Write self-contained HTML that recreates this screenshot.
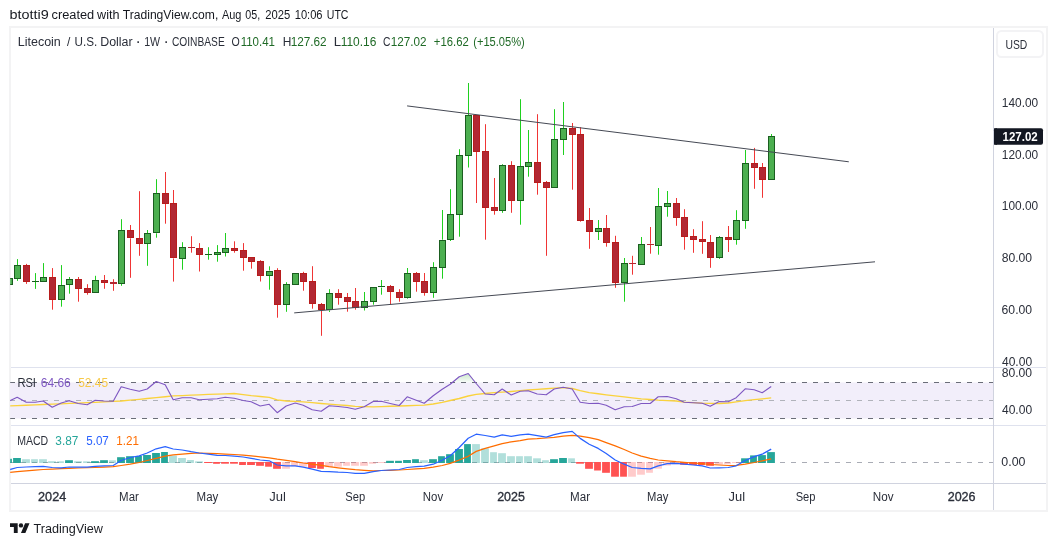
<!DOCTYPE html>
<html lang="en">
<head>
<meta charset="utf-8">
<title>LTCUSD 1W chart snapshot</title>
<style>
html,body{margin:0;padding:0;background:#fff}
body{width:1057px;height:546px;overflow:hidden;position:relative;font-family:"Liberation Sans",sans-serif}
#snap{position:absolute;left:0;top:0;width:1057px;height:546px;display:block}
text{font-family:"Liberation Sans",sans-serif;font-size:12px;fill:#2a2e39}
.b{font-weight:bold}
.ax{fill:#131722}
.sep{stroke:#dfe2ee;stroke-width:1;fill:none}
.gw{stroke:#1fd01f;stroke-width:1}
.rw{stroke:#f03535;stroke-width:1}
.gb{fill:#4caf50;stroke:#1b5e20;stroke-width:1}
.rb{fill:#b22833;stroke:#b71c1c;stroke-width:1}
.gd{stroke:#1b5e20;stroke-width:1}
.rd{stroke:#b22833;stroke-width:1}
.tl{stroke:#454954;stroke-width:1;fill:none}
.hd{fill:#26a69a}.hl{fill:#26a69a;fill-opacity:.36}.hr{fill:#ff5252}.hp{fill:#ff5252;fill-opacity:.3}
</style>
</head>
<body>
<svg id="snap" width="1057" height="546" viewBox="0 0 1057 546">
<rect x="0" y="0" width="1057" height="546" fill="#ffffff"/>
<g id="header"><text style="font-size:12.5px"><tspan x="9.59" y="19" textLength="39.24" lengthAdjust="spacingAndGlyphs" style="fill:#15181f">btotti9</tspan> <tspan x="51.49" y="19" textLength="42.75" lengthAdjust="spacingAndGlyphs" style="fill:#15181f">created</tspan> <tspan x="97.1" y="19" textLength="22.46" lengthAdjust="spacingAndGlyphs" style="fill:#15181f">with</tspan> <tspan x="122.76" y="19" textLength="95.56" lengthAdjust="spacingAndGlyphs" style="fill:#15181f">TradingView.com,</tspan> <tspan x="222.0" y="19" textLength="19.46" lengthAdjust="spacingAndGlyphs" style="fill:#15181f">Aug</tspan> <tspan x="245.37" y="19" textLength="14.89" lengthAdjust="spacingAndGlyphs" style="fill:#15181f">05,</tspan> <tspan x="265.34" y="19" textLength="24.96" lengthAdjust="spacingAndGlyphs" style="fill:#15181f">2025</tspan> <tspan x="294.71" y="19" textLength="27.86" lengthAdjust="spacingAndGlyphs" style="fill:#15181f">10:06</tspan> <tspan x="326.75" y="19" textLength="21.72" lengthAdjust="spacingAndGlyphs" style="fill:#15181f">UTC</tspan></text></g>
<defs><linearGradient id="ob" x1="0" y1="0" x2="0" y2="1"><stop offset="0" stop-color="#4caf50" stop-opacity="0.3"/><stop offset="1" stop-color="#4caf50" stop-opacity="0.03"/></linearGradient><clipPath id="plot"><rect x="10.2" y="28" width="982.8" height="455.5"/></clipPath></defs>
<g id="chart">
<rect x="10" y="27" width="1037" height="484" fill="none" stroke="#f3f3f4" stroke-width="2"/><g id="rsi-band" clip-path="url(#plot)"><rect x="10" y="382.5" width="983" height="36" fill="#f2eefa"/><path d="M10 382.5H993M10 418.5H993" stroke="#6a6d78" stroke-width="1" stroke-dasharray="5 6" fill="none"/><path d="M10 400.5H993" stroke="#b0b2ba" stroke-width="1" stroke-dasharray="5 6" fill="none"/></g>
<path d="M10 462.5H993" stroke="#a9acb5" stroke-width="1" stroke-dasharray="5 6" fill="none" clip-path="url(#plot)"/>
<g id="candles" clip-path="url(#plot)">
<rect class="gb" x="6.5" y="278.5" width="6" height="6"/>
<path class="gw" d="M17.5 259.1V265.2"/><path class="gw" d="M17.5 278.7V280.9"/><rect class="gb" x="14.5" y="265.5" width="6" height="13"/>
<path class="rw" d="M26.5 263.9V265.1"/><path class="rw" d="M26.5 281.8V283.9"/><rect class="rb" x="23.5" y="265.5" width="6" height="16"/>
<path class="gw" d="M35.5 273.1V281"/><path class="gw" d="M35.5 282V288.9"/><rect fill="#1b5e20" x="32" y="281" width="7" height="1"/>
<path class="gw" d="M43.5 263.1V277.2"/><rect class="gb" x="40.5" y="277.5" width="6" height="4"/>
<path class="rw" d="M52.5 268.1V277"/><path class="rw" d="M52.5 299.7V309.7"/><rect class="rb" x="49.5" y="277.5" width="6" height="22"/>
<path class="gw" d="M61.5 265.1V285.1"/><path class="gw" d="M61.5 299.7V306.7"/><rect class="gb" x="58.5" y="285.5" width="6" height="14"/>
<path class="gw" d="M69.5 277V279.2"/><path class="gw" d="M69.5 284.7V293.7"/><rect class="gb" x="66.5" y="279.5" width="6" height="5"/>
<path class="rw" d="M78.5 277V279.2"/><path class="rw" d="M78.5 288.8V301.7"/><rect class="rb" x="75.5" y="279.5" width="6" height="9"/>
<path class="rw" d="M87.5 284.2V288"/><path class="rw" d="M87.5 292.8V294.7"/><rect class="rb" x="84.5" y="288.5" width="6" height="4"/>
<path class="gw" d="M95.5 275.8V280.2"/><rect class="gb" x="92.5" y="280.5" width="6" height="12"/>
<path class="rw" d="M104.5 275V280"/><path class="rw" d="M104.5 282.7V288.8"/><rect class="rb" x="101.5" y="280.5" width="6" height="2"/>
<path class="rw" d="M113.5 279.2V282.2"/><path class="rw" d="M113.5 283.7V290.8"/><rect fill="#b22833" x="110" y="282" width="7" height="2"/>
<path class="gw" d="M121.5 219.2V230.3"/><path class="gw" d="M121.5 283.7V285.8"/><rect class="gb" x="118.5" y="230.5" width="6" height="53"/>
<path class="rw" d="M130.5 225V230.3"/><path class="rw" d="M130.5 238.3V277.8"/><rect class="rb" x="127.5" y="230.5" width="6" height="7"/>
<path class="rw" d="M139.5 191.2V238.3"/><path class="rw" d="M139.5 243.5V255.8"/><rect class="rb" x="136.5" y="238.5" width="6" height="5"/>
<path class="gw" d="M147.5 230V233.3"/><path class="gw" d="M147.5 243.5V265.8"/><rect class="gb" x="144.5" y="233.5" width="6" height="10"/>
<path class="gw" d="M156.5 179.2V193.3"/><path class="gw" d="M156.5 233.3V237.7"/><rect class="gb" x="153.5" y="193.5" width="6" height="39"/>
<path class="rw" d="M165.5 172V193.3"/><path class="rw" d="M165.5 203.7V223.7"/><rect class="rb" x="162.5" y="193.5" width="6" height="10"/>
<path class="rw" d="M173.5 190V203"/><path class="rw" d="M173.5 258.4V281.6"/><rect class="rb" x="170.5" y="203.5" width="6" height="54"/>
<path class="gw" d="M182.5 242.2V247.3"/><path class="gw" d="M182.5 258.5V269.7"/><rect class="gb" x="179.5" y="247.5" width="6" height="11"/>
<path class="rw" d="M191.5 236.2V247"/><path class="rw" d="M191.5 248V252.7"/><rect fill="#b22833" x="188" y="247" width="7" height="1"/>
<path class="rw" d="M199.5 243.1V248.1"/><path class="rw" d="M199.5 254.7V271.5"/><rect class="rb" x="196.5" y="248.5" width="6" height="6"/>
<path class="gw" d="M208.5 247.2V254"/><path class="gw" d="M208.5 255V259.7"/><rect fill="#1b5e20" x="205" y="254" width="7" height="1"/>
<path class="gw" d="M217.5 245.1V252.2"/><path class="gw" d="M217.5 254.5V261.7"/><rect class="gb" x="214.5" y="252.5" width="6" height="2"/>
<path class="gw" d="M225.5 233V248.2"/><path class="gw" d="M225.5 252.7V256.5"/><rect class="gb" x="222.5" y="248.5" width="6" height="4"/>
<path class="rw" d="M234.5 241.3V248.2"/><path class="rw" d="M234.5 250.7V252.7"/><rect class="rb" x="231.5" y="248.5" width="6" height="2"/>
<path class="rw" d="M243.5 243.1V250.1"/><path class="rw" d="M243.5 257.7V270.7"/><rect class="rb" x="240.5" y="250.5" width="6" height="7"/>
<path class="rw" d="M251.5 261.7V268.7"/><rect class="rb" x="248.5" y="257.5" width="6" height="4"/>
<path class="rw" d="M260.5 260.2V261.2"/><path class="rw" d="M260.5 275.7V281.5"/><rect class="rb" x="257.5" y="261.5" width="6" height="14"/>
<path class="gw" d="M269.5 266.3V270.5"/><path class="gw" d="M269.5 275.5V289.7"/><rect class="gb" x="266.5" y="271.5" width="6" height="4"/>
<path class="rw" d="M277.5 268.2V270.2"/><path class="rw" d="M277.5 304.6V317.7"/><rect class="rb" x="274.5" y="270.5" width="6" height="34"/>
<path class="gw" d="M286.5 282.2V284.3"/><path class="gw" d="M286.5 304.6V311.8"/><rect class="gb" x="283.5" y="284.5" width="6" height="20"/>
<rect class="gb" x="292.5" y="273.5" width="6" height="11"/>
<path class="rw" d="M303.5 271.8V273.2"/><path class="rw" d="M303.5 281.5V290.7"/><rect class="rb" x="300.5" y="273.5" width="6" height="8"/>
<path class="rw" d="M312.5 266.2V281"/><path class="rw" d="M312.5 303.7V308.7"/><rect class="rb" x="309.5" y="281.5" width="6" height="22"/>
<path class="rw" d="M321.5 303V304.2"/><path class="rw" d="M321.5 310.4V335.8"/><rect class="rb" x="318.5" y="304.5" width="6" height="5"/>
<path class="gw" d="M329.5 289.2V293.3"/><path class="gw" d="M329.5 310.4V312"/><rect class="gb" x="326.5" y="293.5" width="6" height="16"/>
<path class="rw" d="M338.5 289.2V293.3"/><path class="rw" d="M338.5 297.6V304.7"/><rect class="rb" x="335.5" y="293.5" width="6" height="4"/>
<path class="rw" d="M347.5 293V297.2"/><path class="rw" d="M347.5 301.7V311.7"/><rect class="rb" x="344.5" y="297.5" width="6" height="4"/>
<path class="rw" d="M355.5 288V301.2"/><path class="rw" d="M355.5 307.5V309.7"/><rect class="rb" x="352.5" y="301.5" width="6" height="6"/>
<path class="gw" d="M364.5 292V301.3"/><path class="gw" d="M364.5 307.5V310.5"/><rect class="gb" x="361.5" y="301.5" width="6" height="6"/>
<path class="gw" d="M373.5 301.5V304.7"/><rect class="gb" x="370.5" y="287.5" width="6" height="14"/>
<path class="gw" d="M381.5 280V286.2"/><path class="gw" d="M381.5 287.5V294.7"/><rect fill="#1b5e20" x="378" y="286" width="7" height="1"/>
<path class="rw" d="M390.5 285V286.2"/><path class="rw" d="M390.5 291.7V304.5"/><rect class="rb" x="387.5" y="286.5" width="6" height="5"/>
<path class="rw" d="M399.5 289.2V292.2"/><path class="rw" d="M399.5 297.7V301.7"/><rect class="rb" x="396.5" y="292.5" width="6" height="5"/>
<path class="gw" d="M407.5 268V273.3"/><path class="gw" d="M407.5 297.7V298.7"/><rect class="gb" x="404.5" y="273.5" width="6" height="24"/>
<path class="rw" d="M416.5 272V273"/><path class="rw" d="M416.5 281.7V291.7"/><rect class="rb" x="413.5" y="273.5" width="6" height="8"/>
<path class="rw" d="M424.5 273V281.2"/><path class="rw" d="M424.5 292.7V295.7"/><rect class="rb" x="421.5" y="281.5" width="6" height="11"/>
<path class="gw" d="M433.5 262.2V267.2"/><path class="gw" d="M433.5 292.5V297.8"/><rect class="gb" x="430.5" y="267.5" width="6" height="25"/>
<path class="gw" d="M442.5 210V239.7"/><path class="gw" d="M442.5 267.5V278.7"/><rect class="gb" x="439.5" y="240.5" width="6" height="27"/>
<path class="gw" d="M450.5 189.2V214.2"/><path class="gw" d="M450.5 239.7V241"/><rect class="gb" x="447.5" y="214.5" width="6" height="25"/>
<path class="gw" d="M459.5 149.2V155.3"/><path class="gw" d="M459.5 214.5V236.7"/><rect class="gb" x="456.5" y="155.5" width="6" height="59"/>
<path class="gw" d="M468.5 83V115.3"/><path class="gw" d="M468.5 155.7V167.5"/><rect class="gb" x="465.5" y="115.5" width="6" height="40"/>
<path class="rw" d="M476.5 151.8V203"/><rect class="rb" x="473.5" y="115.5" width="6" height="36"/>
<path class="rw" d="M485.5 124.2V151.1"/><path class="rw" d="M485.5 207.7V239.7"/><rect class="rb" x="482.5" y="151.5" width="6" height="56"/>
<path class="rw" d="M494.5 178V207.2"/><path class="rw" d="M494.5 210.7V214.7"/><rect class="rb" x="491.5" y="207.5" width="6" height="3"/>
<path class="gw" d="M502.5 164.2V165.3"/><path class="gw" d="M502.5 210.5V212.8"/><rect class="gb" x="499.5" y="165.5" width="6" height="45"/>
<path class="rw" d="M511.5 161.2V165.3"/><path class="rw" d="M511.5 200.5V212.8"/><rect class="rb" x="508.5" y="165.5" width="6" height="35"/>
<path class="gw" d="M520.5 99.2V166.3"/><path class="gw" d="M520.5 200.5V224.7"/><rect class="gb" x="517.5" y="166.5" width="6" height="34"/>
<path class="gw" d="M528.5 130V162.2"/><path class="gw" d="M528.5 166.7V176.7"/><rect class="gb" x="525.5" y="162.5" width="6" height="4"/>
<path class="rw" d="M537.5 114.2V162.2"/><path class="rw" d="M537.5 182.7V194.7"/><rect class="rb" x="534.5" y="162.5" width="6" height="20"/>
<path class="rw" d="M546.5 181V182.2"/><path class="rw" d="M546.5 187.8V255.8"/><rect class="rb" x="543.5" y="182.5" width="6" height="5"/>
<path class="gw" d="M554.5 109.2V139.2"/><rect class="gb" x="551.5" y="139.5" width="6" height="48"/>
<path class="gw" d="M563.5 102V128.3"/><path class="gw" d="M563.5 139.7V155"/><rect class="gb" x="560.5" y="128.5" width="6" height="11"/>
<path class="rw" d="M572.5 123V128"/><path class="rw" d="M572.5 134.7V189.7"/><rect class="rb" x="569.5" y="128.5" width="6" height="6"/>
<path class="rw" d="M580.5 127.2V134.2"/><path class="rw" d="M580.5 220.8V221.7"/><rect class="rb" x="577.5" y="134.5" width="6" height="86"/>
<path class="rw" d="M589.5 208V220.2"/><path class="rw" d="M589.5 231.7V248.8"/><rect class="rb" x="586.5" y="220.5" width="6" height="11"/>
<path class="gw" d="M598.5 220V228.3"/><path class="gw" d="M598.5 231.7V240"/><rect class="gb" x="595.5" y="228.5" width="6" height="3"/>
<path class="rw" d="M606.5 215V228"/><path class="rw" d="M606.5 242.7V246.7"/><rect class="rb" x="603.5" y="228.5" width="6" height="14"/>
<path class="rw" d="M615.5 235.8V242"/><path class="rw" d="M615.5 282.7V287.8"/><rect class="rb" x="612.5" y="242.5" width="6" height="40"/>
<path class="gw" d="M624.5 258V263.3"/><path class="gw" d="M624.5 282.7V301.7"/><rect class="gb" x="621.5" y="263.5" width="6" height="19"/>
<path class="rw" d="M632.5 255.8V263"/><path class="rw" d="M632.5 264V274.7"/><rect fill="#b22833" x="629" y="263" width="7" height="1"/>
<path class="gw" d="M641.5 237V244.2"/><rect class="gb" x="638.5" y="244.5" width="6" height="20"/>
<path class="rw" d="M650.5 227V243.8"/><path class="rw" d="M650.5 245V253.7"/><rect fill="#b22833" x="647" y="244" width="7" height="1"/>
<path class="gw" d="M658.5 188V206.3"/><path class="gw" d="M658.5 245.5V254.7"/><rect class="gb" x="655.5" y="206.5" width="6" height="39"/>
<path class="gw" d="M667.5 191V203.2"/><path class="gw" d="M667.5 206.5V216.7"/><rect class="gb" x="664.5" y="203.5" width="6" height="3"/>
<path class="rw" d="M676.5 198V203.2"/><path class="rw" d="M676.5 217.5V225.8"/><rect class="rb" x="673.5" y="203.5" width="6" height="14"/>
<path class="rw" d="M684.5 209.2V217.1"/><path class="rw" d="M684.5 236.7V249.7"/><rect class="rb" x="681.5" y="217.5" width="6" height="19"/>
<path class="rw" d="M693.5 229.2V236.2"/><path class="rw" d="M693.5 239.7V252.8"/><rect class="rb" x="690.5" y="236.5" width="6" height="3"/>
<path class="rw" d="M702.5 221.2V239"/><path class="rw" d="M702.5 241.8V253.8"/><rect class="rb" x="699.5" y="239.5" width="6" height="2"/>
<path class="rw" d="M710.5 235V242.1"/><path class="rw" d="M710.5 257.7V267.8"/><rect class="rb" x="707.5" y="242.5" width="6" height="15"/>
<path class="gw" d="M719.5 236V237.2"/><path class="gw" d="M719.5 257.7V258.9"/><rect class="gb" x="716.5" y="237.5" width="6" height="20"/>
<path class="rw" d="M728.5 226V237.2"/><path class="rw" d="M728.5 239.7V252"/><rect class="rb" x="725.5" y="237.5" width="6" height="2"/>
<path class="gw" d="M736.5 210.2V220.3"/><path class="gw" d="M736.5 239.7V244.7"/><rect class="gb" x="733.5" y="220.5" width="6" height="19"/>
<path class="gw" d="M745.5 150V163.3"/><path class="gw" d="M745.5 220.6V228.8"/><rect class="gb" x="742.5" y="163.5" width="6" height="57"/>
<path class="rw" d="M754.5 147.9V163.1"/><path class="rw" d="M754.5 167.5V188.8"/><rect class="rb" x="751.5" y="163.5" width="6" height="4"/>
<path class="rw" d="M762.5 163V167.2"/><path class="rw" d="M762.5 179.6V197.8"/><rect class="rb" x="759.5" y="167.5" width="6" height="12"/>
<path class="gw" d="M771.5 134V136.2"/><path class="gw" d="M771.5 179.5V179.9"/><rect class="gb" x="768.5" y="136.5" width="6" height="43"/>
</g>
<g id="trendlines"><path class="tl" d="M407.1 105.9L848.8 161.8"/><path class="tl" d="M294.2 312.9L875 261.8"/></g>
<g id="rsi" clip-path="url(#plot)"><polygon points="452.66,382.5 459.5,376.8 468.5,373.5 475.7,382.5" fill="url(#ob)"/><polyline points="9.2,406 17.2,405.63 26.2,405.26 35.2,404.89 43.2,404.52 52.2,404.15 61.2,403.78 69.2,403.41 78.2,403.04 87.2,402.67 95.2,402.3 104.2,401.87 113.2,401.43 121.2,401 130.2,400.17 139.2,399.33 147.2,398.5 156.2,397.63 165.2,396.77 173.2,395.9 182.2,395.53 191.2,395.17 199.2,394.8 208.2,394.47 217.2,394.13 225.2,393.8 234.2,393.5 243.2,394.6 251.2,395.7 260.2,396.5 269.2,397.3 277.2,399.8 286.2,401 295.2,401.4 303.2,401.8 312.2,402.65 321.2,403.5 329.2,404.15 338.2,404.8 347.2,405.5 355.2,406.3 364.2,406.55 373.2,406.8 381.2,406.53 390.2,406.27 399.2,406 407.2,405.73 416.2,405.47 424.2,405.2 433.2,404 442.2,402.3 450.2,400.5 459.2,398.5 468.2,396 476.2,394.3 485.2,393.5 494.2,392.7 502.2,392.2 511.2,391.5 520.2,390.7 528.2,390 537.2,389.3 546.2,388.75 554.2,388.2 563.2,387.7 572.2,388.5 580.2,390.7 589.2,392.7 598.2,393.75 606.2,394.8 615.2,395.8 624.2,396.8 632.2,397.8 641.2,398.8 650.2,399.5 658.2,400.2 667.2,400.6 676.2,401 684.2,402.2 693.2,402.7 702.2,403.2 710.2,403.35 719.2,403.5 728.2,403 736.2,401.8 745.2,400.7 754.2,399.7 762.2,398.8 771.2,397.8" fill="none" stroke="#fad23c" stroke-width="1.3" stroke-linejoin="round"/><polyline points="9.2,401 17.2,397.3 26.2,402.2 35.2,402.3 43.2,401 52.2,407.2 61.2,403 69.2,400.7 78.2,403.5 87.2,404.7 95.2,400.3 104.2,401 113.2,401.3 121.2,386.8 130.2,389.3 139.2,391.3 147.2,389 156.2,381.5 165.2,384.8 173.2,399.8 182.2,397.7 191.2,397.7 199.2,399.8 208.2,399.3 217.2,398.8 225.2,397.3 234.2,398.2 243.2,400.5 251.2,401.8 260.2,406 269.2,404.3 277.2,412.7 286.2,406 295.2,403 303.2,405.2 312.2,409.8 321.2,411.3 329.2,405.7 338.2,406.5 347.2,407.5 355.2,409.3 364.2,406.8 373.2,401.5 381.2,401.3 390.2,403.5 399.2,405.5 407.2,396.8 416.2,400.2 424.2,403.2 433.2,395.7 442.2,389.3 450.2,384.3 459.2,376.8 468.2,373.5 476.2,383.5 485.2,394 494.2,394.7 502.2,389 511.2,395 520.2,391.3 528.2,390.7 537.2,394 546.2,394.8 554.2,389 563.2,387.3 572.2,389 580.2,402.2 589.2,403.5 598.2,403.2 606.2,405.2 615.2,409.8 624.2,406.8 632.2,406.5 641.2,403.5 650.2,403.5 658.2,396.8 667.2,396.5 676.2,398.8 684.2,402.3 693.2,402.7 702.2,403.2 710.2,406.3 719.2,401.5 728.2,401.8 736.2,397.7 745.2,388.8 754.2,389.8 762.2,392.7 771.2,386.6" fill="none" stroke="#7e57c2" stroke-width="1.15" stroke-linejoin="round"/></g>
<g id="macd" clip-path="url(#plot)">
<rect class="hd" x="5.1" y="458.8" width="6.8" height="4.2"/><rect class="hd" x="13.1" y="458" width="7.8" height="5"/><rect class="hl" x="22.1" y="459.2" width="7.8" height="3.8"/><rect class="hl" x="31.1" y="459.2" width="6.8" height="3.8"/><rect class="hl" x="39.1" y="459.2" width="7.8" height="3.8"/><rect class="hl" x="48.1" y="461.2" width="7.8" height="1.8"/><rect class="hl" x="57.1" y="461.3" width="6.8" height="1.7"/><rect class="hd" x="65.1" y="460.2" width="7.8" height="2.8"/><rect class="hl" x="74.1" y="461.2" width="7.8" height="1.8"/><rect class="hl" x="83.1" y="461.3" width="6.8" height="1.7"/><rect class="hd" x="91.1" y="461.2" width="7.8" height="1.8"/><rect class="hd" x="100.1" y="460.2" width="7.8" height="2.8"/><rect class="hl" x="109.1" y="460.3" width="6.8" height="2.7"/><rect class="hd" x="117.1" y="457.2" width="7.8" height="5.8"/><rect class="hd" x="126.1" y="456.2" width="7.8" height="6.8"/><rect class="hd" x="135.1" y="456" width="6.8" height="7"/><rect class="hd" x="143.1" y="455" width="7.8" height="8"/><rect class="hd" x="152.1" y="453" width="7.8" height="10"/><rect class="hd" x="161.1" y="452" width="6.8" height="11"/><rect class="hl" x="169.1" y="455.6" width="7.8" height="7.4"/><rect class="hl" x="178.1" y="458" width="7.8" height="5"/><rect class="hl" x="187.1" y="460" width="6.8" height="3"/><rect class="hl" x="195.1" y="461.3" width="7.8" height="1.7"/><rect class="hr" x="204.1" y="462" width="7.8" height="1"/><rect class="hr" x="213.1" y="462" width="6.8" height="1.8"/><rect class="hr" x="221.1" y="462" width="7.8" height="1.7"/><rect class="hr" x="230.1" y="462" width="7.8" height="1.7"/><rect class="hr" x="239.1" y="462" width="6.8" height="3"/><rect class="hr" x="247.1" y="462" width="7.8" height="3"/><rect class="hr" x="256.1" y="462" width="7.8" height="3.8"/><rect class="hr" x="265.1" y="462" width="6.8" height="4.7"/><rect class="hr" x="273.1" y="462" width="7.8" height="6.8"/><rect class="hp" x="282.1" y="462" width="7.8" height="6.8"/><rect class="hp" x="291.1" y="462" width="6.8" height="4.3"/><rect class="hp" x="299.1" y="462" width="7.8" height="4.7"/><rect class="hr" x="308.1" y="462" width="7.8" height="6"/><rect class="hr" x="317.1" y="462" width="6.8" height="6.8"/><rect class="hp" x="325.1" y="462" width="7.8" height="5.2"/><rect class="hp" x="334.1" y="462" width="7.8" height="4.7"/><rect class="hp" x="343.1" y="462" width="6.8" height="3.8"/><rect class="hp" x="351.1" y="462" width="7.8" height="3.8"/><rect class="hp" x="360.1" y="462" width="7.8" height="3.8"/><rect class="hp" x="369.1" y="462" width="6.8" height="1.8"/><rect class="hp" x="377.1" y="462" width="7.8" height="1"/><rect class="hd" x="386.1" y="460.8" width="7.8" height="2.2"/><rect class="hd" x="395.1" y="460.8" width="6.8" height="2.2"/><rect class="hd" x="403.1" y="460" width="7.8" height="3"/><rect class="hd" x="412.1" y="459.2" width="6.8" height="3.8"/><rect class="hl" x="420.1" y="460.2" width="7.8" height="2.8"/><rect class="hd" x="429.1" y="459.2" width="7.8" height="3.8"/><rect class="hd" x="438.1" y="456.2" width="6.8" height="6.8"/><rect class="hd" x="446.1" y="454.2" width="7.8" height="8.8"/><rect class="hd" x="455.1" y="449" width="7.8" height="14"/><rect class="hd" x="464.1" y="444.1" width="6.8" height="18.9"/><rect class="hl" x="472.1" y="444.1" width="7.8" height="18.9"/><rect class="hl" x="481.1" y="448.3" width="7.8" height="14.7"/><rect class="hl" x="490.1" y="452.2" width="6.8" height="10.8"/><rect class="hl" x="498.1" y="453.2" width="7.8" height="9.8"/><rect class="hl" x="507.1" y="456.2" width="7.8" height="6.8"/><rect class="hl" x="516.1" y="456.2" width="6.8" height="6.8"/><rect class="hl" x="524.1" y="456.2" width="7.8" height="6.8"/><rect class="hl" x="533.1" y="458.3" width="7.8" height="4.7"/><rect class="hl" x="542.1" y="460.2" width="6.8" height="2.8"/><rect class="hd" x="550.1" y="459.2" width="7.8" height="3.8"/><rect class="hd" x="559.1" y="458" width="7.8" height="5"/><rect class="hl" x="568.1" y="458.3" width="6.8" height="4.7"/><rect class="hr" x="576.1" y="462" width="7.8" height="1.7"/><rect class="hr" x="585.1" y="462" width="7.8" height="6.8"/><rect class="hr" x="594.1" y="462" width="6.8" height="8.5"/><rect class="hr" x="602.1" y="462" width="7.8" height="10.8"/><rect class="hr" x="611.1" y="462" width="7.8" height="14.7"/><rect class="hr" x="620.1" y="462" width="6.8" height="14.7"/><rect class="hp" x="628.1" y="462" width="7.8" height="14.7"/><rect class="hp" x="637.1" y="462" width="7.8" height="12.7"/><rect class="hp" x="646.1" y="462" width="6.8" height="10.8"/><rect class="hp" x="654.1" y="462" width="7.8" height="6.7"/><rect class="hp" x="663.1" y="462" width="7.8" height="3.5"/><rect class="hp" x="672.1" y="462" width="6.8" height="2.2"/><rect class="hr" x="680.1" y="462" width="7.8" height="2.7"/><rect class="hr" x="689.1" y="462" width="7.8" height="3"/><rect class="hr" x="698.1" y="462" width="6.8" height="3"/><rect class="hr" x="706.1" y="462" width="7.8" height="3.8"/><rect class="hp" x="715.1" y="462" width="7.8" height="2.5"/><rect class="hp" x="724.1" y="462" width="6.8" height="2.2"/><rect class="hp" x="732.1" y="462" width="7.8" height="1"/><rect class="hd" x="741.1" y="458.3" width="7.8" height="4.7"/><rect class="hd" x="750.1" y="455.4" width="6.8" height="7.6"/><rect class="hd" x="758.1" y="455.1" width="7.8" height="7.9"/><rect class="hd" x="767.1" y="452.1" width="7.8" height="10.9"/>
<polyline points="9.2,472.5 17.2,471.65 26.2,470.8 35.2,470.15 43.2,469.5 52.2,469.1 61.2,468.7 69.2,468.35 78.2,468 87.2,467.75 95.2,467.5 104.2,467.1 113.2,466.7 121.2,465.5 130.2,464.2 139.2,462.5 147.2,460.5 156.2,458.3 165.2,456.2 173.2,454.9 182.2,454.2 191.2,453.3 199.2,453 208.2,453.35 217.2,453.7 225.2,454.1 234.2,454.5 243.2,455.15 251.2,455.8 260.2,456.8 269.2,457.8 277.2,459.2 286.2,460.3 295.2,461.7 303.2,463 312.2,464.2 321.2,465.3 329.2,466.7 338.2,467.8 347.2,468.8 355.2,469.7 364.2,470.3 373.2,470.8 381.2,470.5 390.2,470.3 399.2,470 407.2,469.5 416.2,468.8 424.2,468.3 433.2,467.2 442.2,465.5 450.2,463.3 459.2,460 468.2,456.3 476.2,451.4 485.2,448.3 494.2,445.9 502.2,443.6 511.2,441.8 520.2,440.6 528.2,439.2 537.2,438.7 546.2,438 554.2,437.3 563.2,436.2 572.2,435.4 580.2,436.2 589.2,437.6 598.2,439.6 606.2,442.6 615.2,445.8 624.2,449.5 632.2,453 641.2,456.1 650.2,458.3 658.2,460 667.2,460.8 676.2,461.7 684.2,462.3 693.2,463 702.2,463.7 710.2,464.5 719.2,465 728.2,465.5 736.2,465.3 745.2,464.2 754.2,462.5 762.2,460.8 771.2,458.8" fill="none" stroke="#ff6d00" stroke-width="1.25" stroke-linejoin="round"/><polyline points="9.2,469.7 17.2,467.5 26.2,467 35.2,466.7 43.2,466.3 52.2,467.5 61.2,467.8 69.2,467 78.2,467.2 87.2,467.2 95.2,466.3 104.2,465.8 113.2,465.5 121.2,460.5 130.2,457.5 139.2,455.8 147.2,453 156.2,448.8 165.2,446.7 173.2,449 182.2,450 191.2,451.7 199.2,453 208.2,454.2 217.2,455.3 225.2,455.5 234.2,456.2 243.2,457 251.2,458.3 260.2,460 269.2,460.8 277.2,465 286.2,465.8 295.2,465.8 303.2,467.2 312.2,469.2 321.2,471.3 329.2,471.7 338.2,472.2 347.2,472.5 355.2,473.3 364.2,473.3 373.2,471.7 381.2,470.5 390.2,470 399.2,469.5 407.2,467.5 416.2,466.7 424.2,466.2 433.2,464.2 442.2,460.3 450.2,455.8 459.2,447.5 468.2,438.2 476.2,434.2 485.2,435.5 494.2,437.2 502.2,434.9 511.2,436.3 520.2,434.8 528.2,434.2 537.2,435.7 546.2,437.1 554.2,434.6 563.2,432.6 572.2,431.4 580.2,438.4 589.2,444.2 598.2,448.4 606.2,453.6 615.2,460 624.2,464.2 632.2,467.5 641.2,468.3 650.2,468.8 658.2,465.8 667.2,463.7 676.2,463.3 684.2,464.2 693.2,465 702.2,465.8 710.2,468 719.2,467.8 728.2,467.5 736.2,465.8 745.2,460.5 754.2,456.7 762.2,454.2 771.2,449.1" fill="none" stroke="#2962ff" stroke-width="1.25" stroke-linejoin="round"/></g>
<g id="frame"><path class="sep" d="M11 367.5H1046M11 425.5H1046"/><path d="M11 483.5H1046" stroke="#d0d3df" stroke-width="1" fill="none"/><path d="M993.5 28V510" stroke="#d0d3df" stroke-width="1" fill="none"/></g>
<g id="legend"><text><tspan x="17.75" y="46" textLength="43.08" lengthAdjust="spacingAndGlyphs">Litecoin</tspan> <tspan x="67.02" y="46" textLength="3.33" lengthAdjust="spacingAndGlyphs">/</tspan> <tspan x="74.56" y="46" textLength="22.74" lengthAdjust="spacingAndGlyphs">U.S.</tspan> <tspan x="100.21" y="46" textLength="32.44" lengthAdjust="spacingAndGlyphs">Dollar</tspan> <tspan x="135.41" y="47.2" textLength="5.33" lengthAdjust="spacingAndGlyphs" style="font-size:16px">·</tspan> <tspan x="144.15" y="46" textLength="15.96" lengthAdjust="spacingAndGlyphs">1W</tspan> <tspan x="163.61" y="47.2" textLength="5.33" lengthAdjust="spacingAndGlyphs" style="font-size:16px">·</tspan> <tspan x="171.99" y="46" textLength="52.7" lengthAdjust="spacingAndGlyphs">COINBASE</tspan></text><text><tspan x="231.57" y="46" textLength="8.24" lengthAdjust="spacingAndGlyphs">O</tspan> <tspan x="240.68" y="46" textLength="34.35" lengthAdjust="spacingAndGlyphs" style="fill:#1f6a26">110.41</tspan> <tspan x="282.64" y="46" textLength="8.64" lengthAdjust="spacingAndGlyphs">H</tspan> <tspan x="290.66" y="46" textLength="36.01" lengthAdjust="spacingAndGlyphs" style="fill:#1f6a26">127.62</tspan> <tspan x="333.72" y="46" textLength="6.83" lengthAdjust="spacingAndGlyphs">L</tspan> <tspan x="340.64" y="46" textLength="35.69" lengthAdjust="spacingAndGlyphs" style="fill:#1f6a26">110.16</tspan> <tspan x="382.98" y="46" textLength="7.45" lengthAdjust="spacingAndGlyphs">C</tspan> <tspan x="390.66" y="46" textLength="35.81" lengthAdjust="spacingAndGlyphs" style="fill:#1f6a26">127.02</tspan> <tspan x="433.83" y="46" textLength="34.89" lengthAdjust="spacingAndGlyphs" style="fill:#1f6a26">+16.62</tspan> <tspan x="473.23" y="46" textLength="51.55" lengthAdjust="spacingAndGlyphs" style="fill:#1f6a26">(+15.05%)</tspan></text></g>
<g id="rsi-legend"><text><tspan x="17.41" y="386.8" textLength="18.56" lengthAdjust="spacingAndGlyphs">RSI</tspan> <tspan x="40.7" y="386.8" textLength="30.11" lengthAdjust="spacingAndGlyphs" style="fill:#7e57c2">64.66</tspan> <tspan x="78.22" y="386.8" textLength="29.78" lengthAdjust="spacingAndGlyphs" style="fill:#f7c948">52.45</tspan></text></g>
<g id="macd-legend"><text><tspan x="17.15" y="445" textLength="31.11" lengthAdjust="spacingAndGlyphs">MACD</tspan> <tspan x="55.33" y="445" textLength="23.02" lengthAdjust="spacingAndGlyphs" style="fill:#26a69a">3.87</tspan> <tspan x="86.24" y="445" textLength="22.6" lengthAdjust="spacingAndGlyphs" style="fill:#2962ff">5.07</tspan> <tspan x="116.27" y="445" textLength="22.56" lengthAdjust="spacingAndGlyphs" style="fill:#ff6d00">1.21</tspan></text></g>
<g id="price-axis"><text x="1001.85" y="106.9" textLength="36.31" lengthAdjust="spacingAndGlyphs">140.00</text><text x="1001.85" y="158.6" textLength="36.31" lengthAdjust="spacingAndGlyphs">120.00</text><text x="1001.85" y="210.3" textLength="36.31" lengthAdjust="spacingAndGlyphs">100.00</text><text x="1001.71" y="262.0" textLength="30.4" lengthAdjust="spacingAndGlyphs">80.00</text><text x="1001.59" y="313.7" textLength="30.53" lengthAdjust="spacingAndGlyphs">60.00</text><text x="1001.96" y="365.9" textLength="30.15" lengthAdjust="spacingAndGlyphs">40.00</text><text x="1001.71" y="377.1" textLength="30.4" lengthAdjust="spacingAndGlyphs">80.00</text><text x="1001.96" y="414.0" textLength="30.15" lengthAdjust="spacingAndGlyphs">40.00</text><text x="1001.3" y="466.3" textLength="24.15" lengthAdjust="spacingAndGlyphs">0.00</text><rect x="994" y="128.3" width="49" height="16.4" rx="2" fill="#131722"/><rect x="994" y="128.3" width="3" height="16.4" fill="#131722"/><text><tspan x="1002.51" y="140.7" textLength="35.24" lengthAdjust="spacingAndGlyphs" style="font-weight:bold;fill:#ffffff">127.02</tspan></text><rect x="997" y="31" width="46" height="26" rx="4.5" fill="#fff" stroke="#f3f3f5" stroke-width="2"/><text><tspan x="1005.47" y="48.8" textLength="21.86" lengthAdjust="spacingAndGlyphs">USD</tspan></text></g>
<g id="time-axis"><text x="38.07" y="500.7" textLength="28.17" lengthAdjust="spacingAndGlyphs" style="stroke:#2a2e39;stroke-width:.32px">2024</text><text x="119.08" y="500.7" textLength="19.76" lengthAdjust="spacingAndGlyphs">Mar</text><text x="196.58" y="500.7" textLength="21.71" lengthAdjust="spacingAndGlyphs">May</text><text x="269.24" y="500.7" textLength="16.65" lengthAdjust="spacingAndGlyphs">Jul</text><text x="345.24" y="500.7" textLength="19.9" lengthAdjust="spacingAndGlyphs">Sep</text><text x="422.79" y="500.7" textLength="20.31" lengthAdjust="spacingAndGlyphs">Nov</text><text x="497.18" y="500.7" textLength="27.68" lengthAdjust="spacingAndGlyphs" style="stroke:#2a2e39;stroke-width:.32px">2025</text><text x="570.07" y="500.7" textLength="19.97" lengthAdjust="spacingAndGlyphs">Mar</text><text x="647.1" y="500.7" textLength="21.19" lengthAdjust="spacingAndGlyphs">May</text><text x="728.54" y="500.7" textLength="16.54" lengthAdjust="spacingAndGlyphs">Jul</text><text x="795.64" y="500.7" textLength="19.79" lengthAdjust="spacingAndGlyphs">Sep</text><text x="872.87" y="500.7" textLength="20.73" lengthAdjust="spacingAndGlyphs">Nov</text><text x="947.67" y="500.7" textLength="27.89" lengthAdjust="spacingAndGlyphs" style="stroke:#2a2e39;stroke-width:.32px">2026</text></g>
</g>
<g id="footer"><g transform="translate(10,521) scale(0.549)" fill="#16181d"><path d="M14 22H7V11H0V4h14v18zM28 22h-8l7.5-18h8L28 22z"/><circle cx="20" cy="8" r="4"/></g><text style="font-size:13px"><tspan x="33.45" y="532.7" textLength="69.49" lengthAdjust="spacingAndGlyphs" style="fill:#1a1c22">TradingView</tspan></text></g>
</svg>
</body>
</html>
